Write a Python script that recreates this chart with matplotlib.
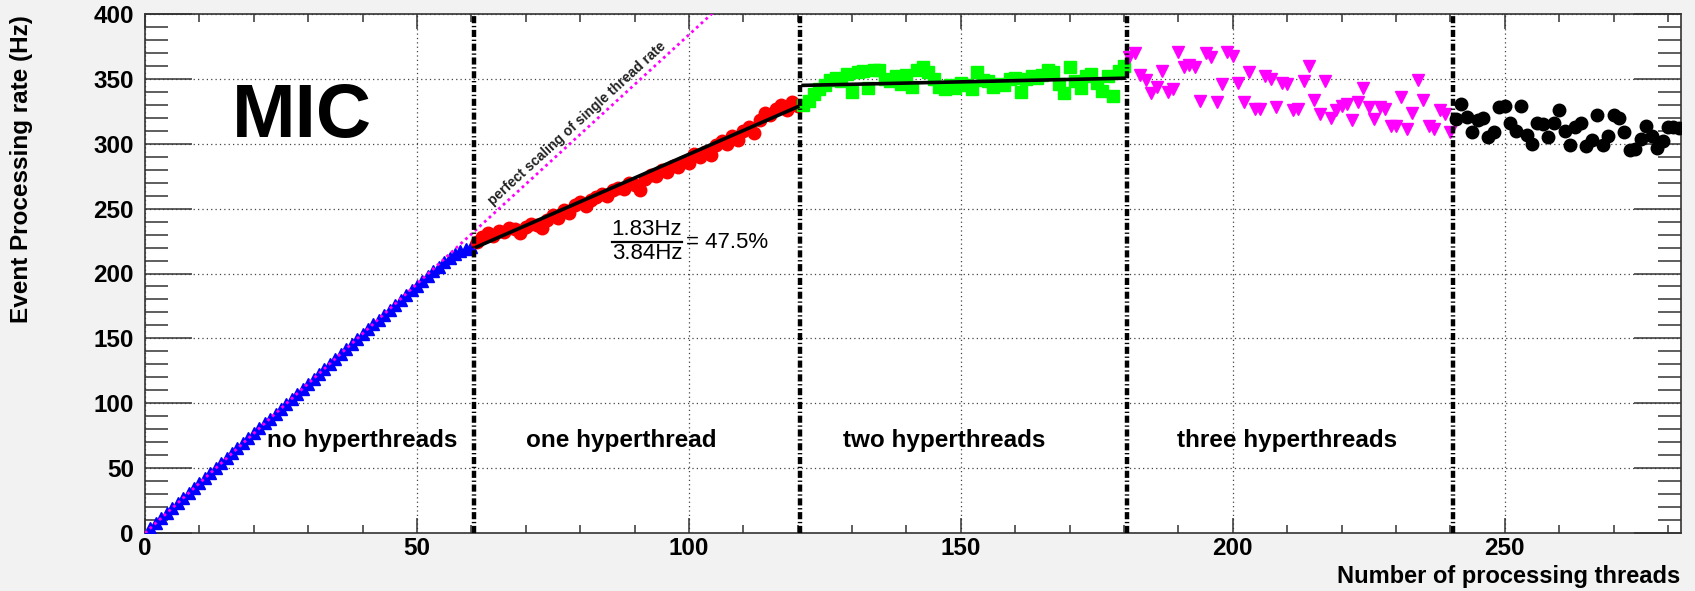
import matplotlib
matplotlib.use("Agg")
import matplotlib.pyplot as plt
import numpy as np

plt.rcParams['font.family'] = ['Liberation Sans', 'DejaVu Sans']

# measured event rates (Hz) vs number of threads
blue_x = np.arange(1, 61)
blue_y = [4, 8, 11.5, 15.3, 19.2, 23, 26.9, 30.7, 34.5, 38.4,
          42.2, 46, 49.9, 53.7, 57.6, 61.4, 65.2, 69.1, 72.9, 76.7,
          80.6, 84.4, 88.2, 92.1, 95.9, 99.7, 103.6, 107.4, 111.2, 115,
          118.9, 122.7, 126.5, 130.3, 134.1, 137.9, 141.7, 145.5, 149.3, 153.1,
          156.9, 160.7, 164.5, 168.2, 172, 175.8, 179.5, 183.3, 187, 190.7,
          194.4, 198, 201.6, 205.1, 208.5, 211.8, 214.8, 217.3, 219.2, 220.5]

red_x = np.arange(61, 121)
red_y = [224, 228, 231, 229, 233, 232, 235, 234, 231, 236,
         238, 237, 235, 241, 245, 243, 249, 247, 253, 255,
         252, 257, 259, 261, 260, 264, 266, 265, 270, 268,
         264, 273, 276, 275, 280, 278, 283, 282, 286, 285,
         292, 290, 294, 291, 299, 302, 300, 306, 303, 310,
         313, 308, 318, 324, 322, 327, 330, 326, 332, 329]

green_x = np.arange(121, 181)
green_y = [330, 333, 338, 342, 345, 349, 351, 348, 354, 340,
           355, 356, 343, 357, 357, 350, 348, 352, 346, 353,
           344, 357, 359, 355, 350, 344, 342, 345, 343, 347,
           345, 342, 355, 349, 348, 344, 346, 345, 350, 351,
           340, 350, 352, 351, 353, 357, 355, 346, 339, 359,
           348, 343, 352, 354, 347, 341, 352, 337, 356, 360]

mag_x = np.arange(181, 241)
mag_y = [367, 370, 353, 349, 339, 344, 356, 340, 342, 371,
         359, 361, 359, 333, 370, 367, 332, 346, 371, 368,
         347, 332, 355, 327, 327, 352, 350, 328, 347, 346,
         326, 327, 348, 360, 334, 323, 348, 320, 326, 329,
         331, 318, 332, 343, 328, 319, 328, 327, 314, 314,
         336, 311, 324, 349, 334, 314, 311, 326, 323, 309]

black_x = np.arange(241, 283)
black_y = [319, 331, 321, 309, 318, 320, 305, 309, 328, 329,
           316, 310, 329, 307, 300, 316, 315, 305, 316, 326,
           310, 299, 313, 316, 298, 303, 322, 299, 306, 322,
           320, 309, 295, 296, 304, 314, 306, 297, 302, 313,
           313, 312]

# linear fits
fit_one_x = [61, 120]
fit_one_y = [220.5, 328.5]
fit_two_x = [121, 180]
fit_two_y = [345, 350.5]

single_rate = 3.84
perfect_x = np.array([0, 110])

separators = [60.5, 120.5, 180.5, 240.5]
region_labels = ['no hyperthreads', 'one hyperthread', 'two hyperthreads', 'three hyperthreads']
region_x = [40, 87.5, 147, 210]

fig = plt.figure(figsize=(16.95, 5.91), dpi=100, facecolor='#f2f2f2')
ax = fig.add_axes([145 / 1695, 1 - 533 / 591, (1681 - 145) / 1695, (533 - 14) / 591])
ax.set_facecolor('white')

ax.set_xlim(0, 282.4)
ax.set_ylim(0, 400)

ax.set_xticks(np.arange(0, 281, 50))
ax.set_xticks(np.arange(0, 283, 10), minor=True)
ax.set_yticks(np.arange(0, 401, 50))
ax.set_yticks(np.arange(0, 401, 10), minor=True)

ax.grid(True, which='major', linestyle=(0, (1, 2.5)), color='#444444', linewidth=0.9, zorder=0)
ax.set_axisbelow(True)

ax.tick_params(which='both', direction='in', top=True, right=True,
               color='#333333', width=1.1, labelsize=17.5)
ax.tick_params(axis='x', which='major', length=11, pad=3)
ax.tick_params(axis='x', which='minor', length=5.5)
ax.tick_params(axis='y', which='major', length=34, pad=8)
ax.tick_params(axis='y', which='minor', length=16.5)
for lab in ax.get_xticklabels() + ax.get_yticklabels():
    lab.set_fontweight('bold')
for sp in ax.spines.values():
    sp.set_color('#333333')
    sp.set_linewidth(1.2)

ms = 8.5
ax.plot(blue_x, blue_y, linestyle='none', marker='^', color='#0000ff', markersize=ms - 0.5, zorder=3)
ax.plot(red_x, red_y, linestyle='none', marker='o', color='#ff0000', markersize=ms + 0.5, zorder=3)
ax.plot(green_x, green_y, linestyle='none', marker='s', color='#00ff00', markersize=ms + 0.5, zorder=3)
ax.plot(mag_x, mag_y, linestyle='none', marker='v', color='#ff00ff', markersize=ms + 0.5, zorder=3)
ax.plot(black_x, black_y, linestyle='none', marker='o', color='black', markersize=ms + 0.5, zorder=3)

ax.plot(perfect_x, single_rate * perfect_x, color='#ff00ff', linewidth=2,
        linestyle=(0, (1, 1.3)), zorder=4)
ax.plot(fit_one_x, fit_one_y, color='black', linewidth=2.6, zorder=5)
ax.plot(fit_two_x, fit_two_y, color='black', linewidth=2.6, zorder=5)

for xs in separators:
    ax.axvline(xs, color='black', linewidth=3.2, dashes=(1.6, 0.6, 0.3, 0.6), zorder=6)

for lab, xc in zip(region_labels, region_x):
    ax.text(xc, 71, lab, ha='center', va='center', fontsize=17.5, fontweight='bold', zorder=7)

ax.text(28.9, 320, 'MIC', ha='center', va='center', fontsize=55, fontweight='bold', zorder=7)

ax.text(79.4, 315.5, 'perfect scaling of single thread rate', ha='center', va='center',
        fontsize=10, fontweight='bold', color='#222222', rotation=42.4,
        rotation_mode='anchor', zorder=7)

ax.text(92.3, 234, '1.83Hz', ha='center', va='center', fontsize=16, zorder=7)
ax.text(92.3, 215.5, '3.84Hz', ha='center', va='center', fontsize=16, zorder=7)
ax.plot([85.8, 98.8], [224.5, 224.5], color='black', linewidth=1.6, zorder=7)
ax.text(99.4, 224, '= 47.5%', ha='left', va='center', fontsize=16, zorder=7)

fig.text(1680 / 1695, 1 - 576 / 591, 'Number of processing threads', ha='right', va='center',
         fontsize=17, fontweight='bold')
fig.text(22 / 1695, 1 - 15 / 591, 'Event Processing rate (Hz)', ha='center', va='top',
         rotation=90, fontsize=17.5, fontweight='bold')

fig.savefig('out.png', dpi=100, facecolor=fig.get_facecolor())
